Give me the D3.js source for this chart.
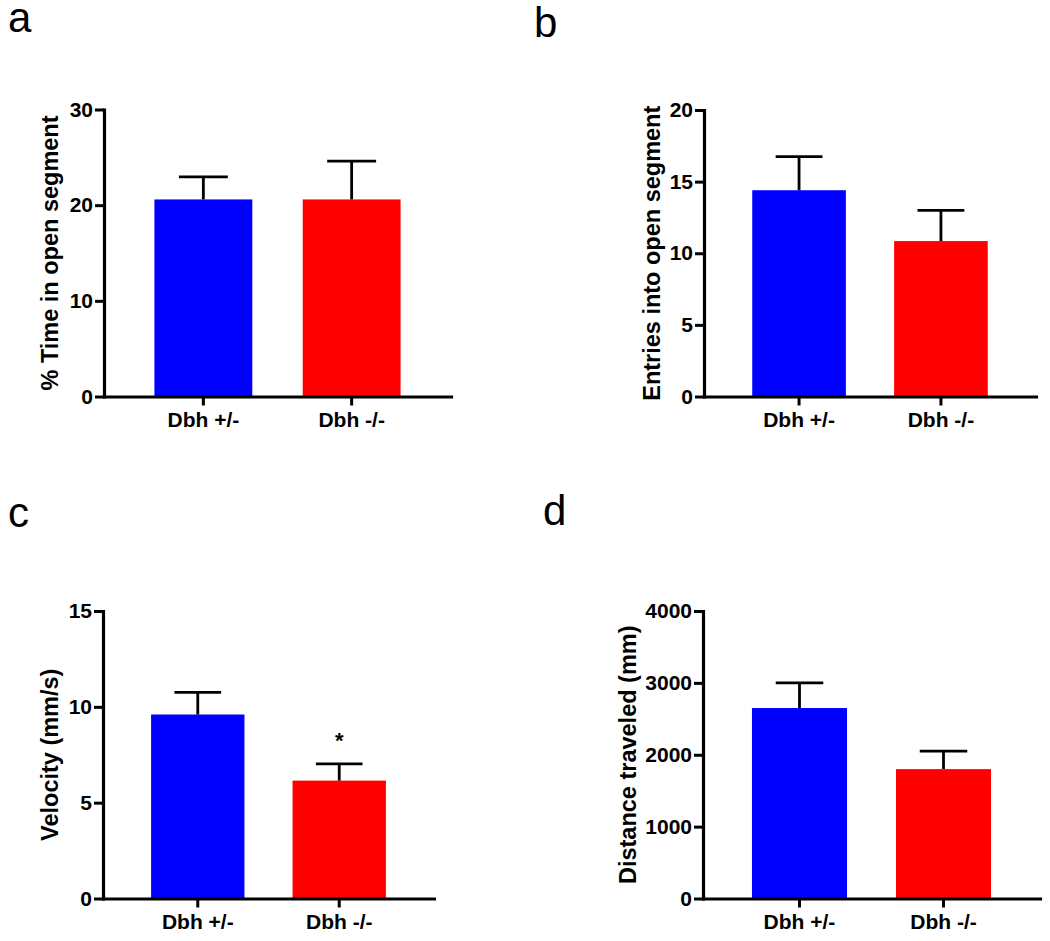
<!DOCTYPE html>
<html>
<head>
<meta charset="utf-8">
<script src="https://cdn.jsdelivr.net/npm/d3@7"></script>
<style>
  html, body { margin: 0; padding: 0; background: #fff; }
  svg { display: block; font-family: "Liberation Sans", Arial, Helvetica, sans-serif; }
</style>
</head>
<body>
<svg id="chart" width="1050" height="941"></svg>
<script>
// ---- data ----
const categories = ["Dbh +/-", "Dbh -/-"];
const barColors = ["#0000ff", "#ff0000"];

const timeMean = [20.6, 20.6];
const timeSem = [2.35, 4.0];
const timeTicks = [0, 10, 20, 30];

const entriesMean = [14.4, 10.85];
const entriesSem = [2.35, 2.15];
const entriesTicks = [0, 5, 10, 15, 20];

const velocityMean = [9.6, 6.15];
const velocitySem = [1.15, 0.87];
const velocityTicks = [0, 5, 10, 15];
const velocitySig = ["", "*"];

const distanceMean = [2650, 1800];
const distanceSem = [350, 250];
const distanceTicks = [0, 1000, 2000, 3000, 4000];

// ---- layout ----
const panels = [
  { letter: "a", lx: 8, ly: 32, x0: 104, x1: 451, yTop: 109.5, yBot: 396.5, ticks: timeTicks, mean: timeMean, sem: timeSem, title: "% Time in open segment", titleX: 50, sig: null },
  { letter: "b", lx: 534, ly: 37, x0: 704, x1: 1036, yTop: 110, yBot: 396.5, ticks: entriesTicks, mean: entriesMean, sem: entriesSem, title: "Entries into open segment", titleX: 652, sig: null },
  { letter: "c", lx: 8, ly: 527, x0: 103, x1: 434, yTop: 611, yBot: 898.5, ticks: velocityTicks, mean: velocityMean, sem: velocitySem, title: "Velocity (mm/s)", titleX: 50, sig: velocitySig },
  { letter: "d", lx: 543, ly: 525, x0: 703, x1: 1040, yTop: 611, yBot: 898.5, ticks: distanceTicks, mean: distanceMean, sem: distanceSem, title: "Distance traveled (mm)", titleX: 628, sig: null }
];

const svg = d3.select("#chart");

panels.forEach(p => {
  const g = svg.append("g");

  // panel letter
  g.append("text")
    .attr("x", p.lx).attr("y", p.ly)
    .attr("font-size", 42)
    .attr("fill", "#000")
    .text(p.letter);

  const x = d3.scaleBand()
    .domain(categories)
    .range([p.x0, p.x1])
    .paddingInner(0.34)
    .paddingOuter(0.34);

  const ymax = p.ticks[p.ticks.length - 1];
  const y = d3.scaleLinear().domain([0, ymax]).range([p.yBot, p.yTop]);

  // bars
  g.selectAll("rect.bar")
    .data(categories)
    .join("rect")
    .attr("class", "bar")
    .attr("x", d => x(d))
    .attr("width", x.bandwidth())
    .attr("y", (d, i) => y(p.mean[i]))
    .attr("height", (d, i) => y(0) - y(p.mean[i]))
    .attr("fill", (d, i) => barColors[i]);

  // error bars (upper)
  categories.forEach((c, i) => {
    const cx = x(c) + x.bandwidth() / 2;
    const top = y(p.mean[i] + p.sem[i]);
    const capW = x.bandwidth() / 2;
    g.append("line")
      .attr("x1", cx).attr("x2", cx)
      .attr("y1", y(p.mean[i])).attr("y2", top)
      .attr("stroke", "#000").attr("stroke-width", 2.8);
    g.append("line")
      .attr("x1", cx - capW / 2).attr("x2", cx + capW / 2)
      .attr("y1", top).attr("y2", top)
      .attr("stroke", "#000").attr("stroke-width", 2.8);
    if (p.sig && p.sig[i]) {
      g.append("text")
        .attr("x", cx).attr("y", top - 16)
        .attr("text-anchor", "middle")
        .attr("font-size", 22).attr("font-weight", "bold")
        .text(p.sig[i]);
    }
  });

  // y axis
  const yAxis = g.append("g")
    .attr("transform", `translate(${p.x0},0)`)
    .call(d3.axisLeft(y).tickValues(p.ticks).tickFormat(d3.format("d")).tickSize(9).tickSizeOuter(0).tickPadding(2));

  // x axis
  const xAxis = g.append("g")
    .attr("transform", `translate(0,${p.yBot})`)
    .call(d3.axisBottom(x).tickSize(9).tickSizeOuter(0).tickPadding(7));

  [yAxis, xAxis].forEach(ax => {
    ax.select(".domain").attr("stroke", "#000").attr("stroke-width", 3.2).attr("stroke-linecap", "square");
    ax.selectAll(".tick line").attr("stroke", "#000").attr("stroke-width", 3);
    ax.selectAll(".tick text")
      .attr("fill", "#000")
      .attr("font-size", 21)
      .attr("font-weight", "bold")
      .attr("font-family", "'Liberation Sans', Arial, Helvetica, sans-serif");
  });

  // y title
  const yc = (p.yTop + p.yBot) / 2;
  g.append("text")
    .attr("transform", `translate(${p.titleX},${yc}) rotate(-90)`)
    .attr("text-anchor", "middle")
    .attr("dominant-baseline", "central")
    .attr("font-size", 23.5)
    .attr("font-weight", "bold")
    .attr("fill", "#000")
    .text(p.title);
});
</script>
</body>
</html>
